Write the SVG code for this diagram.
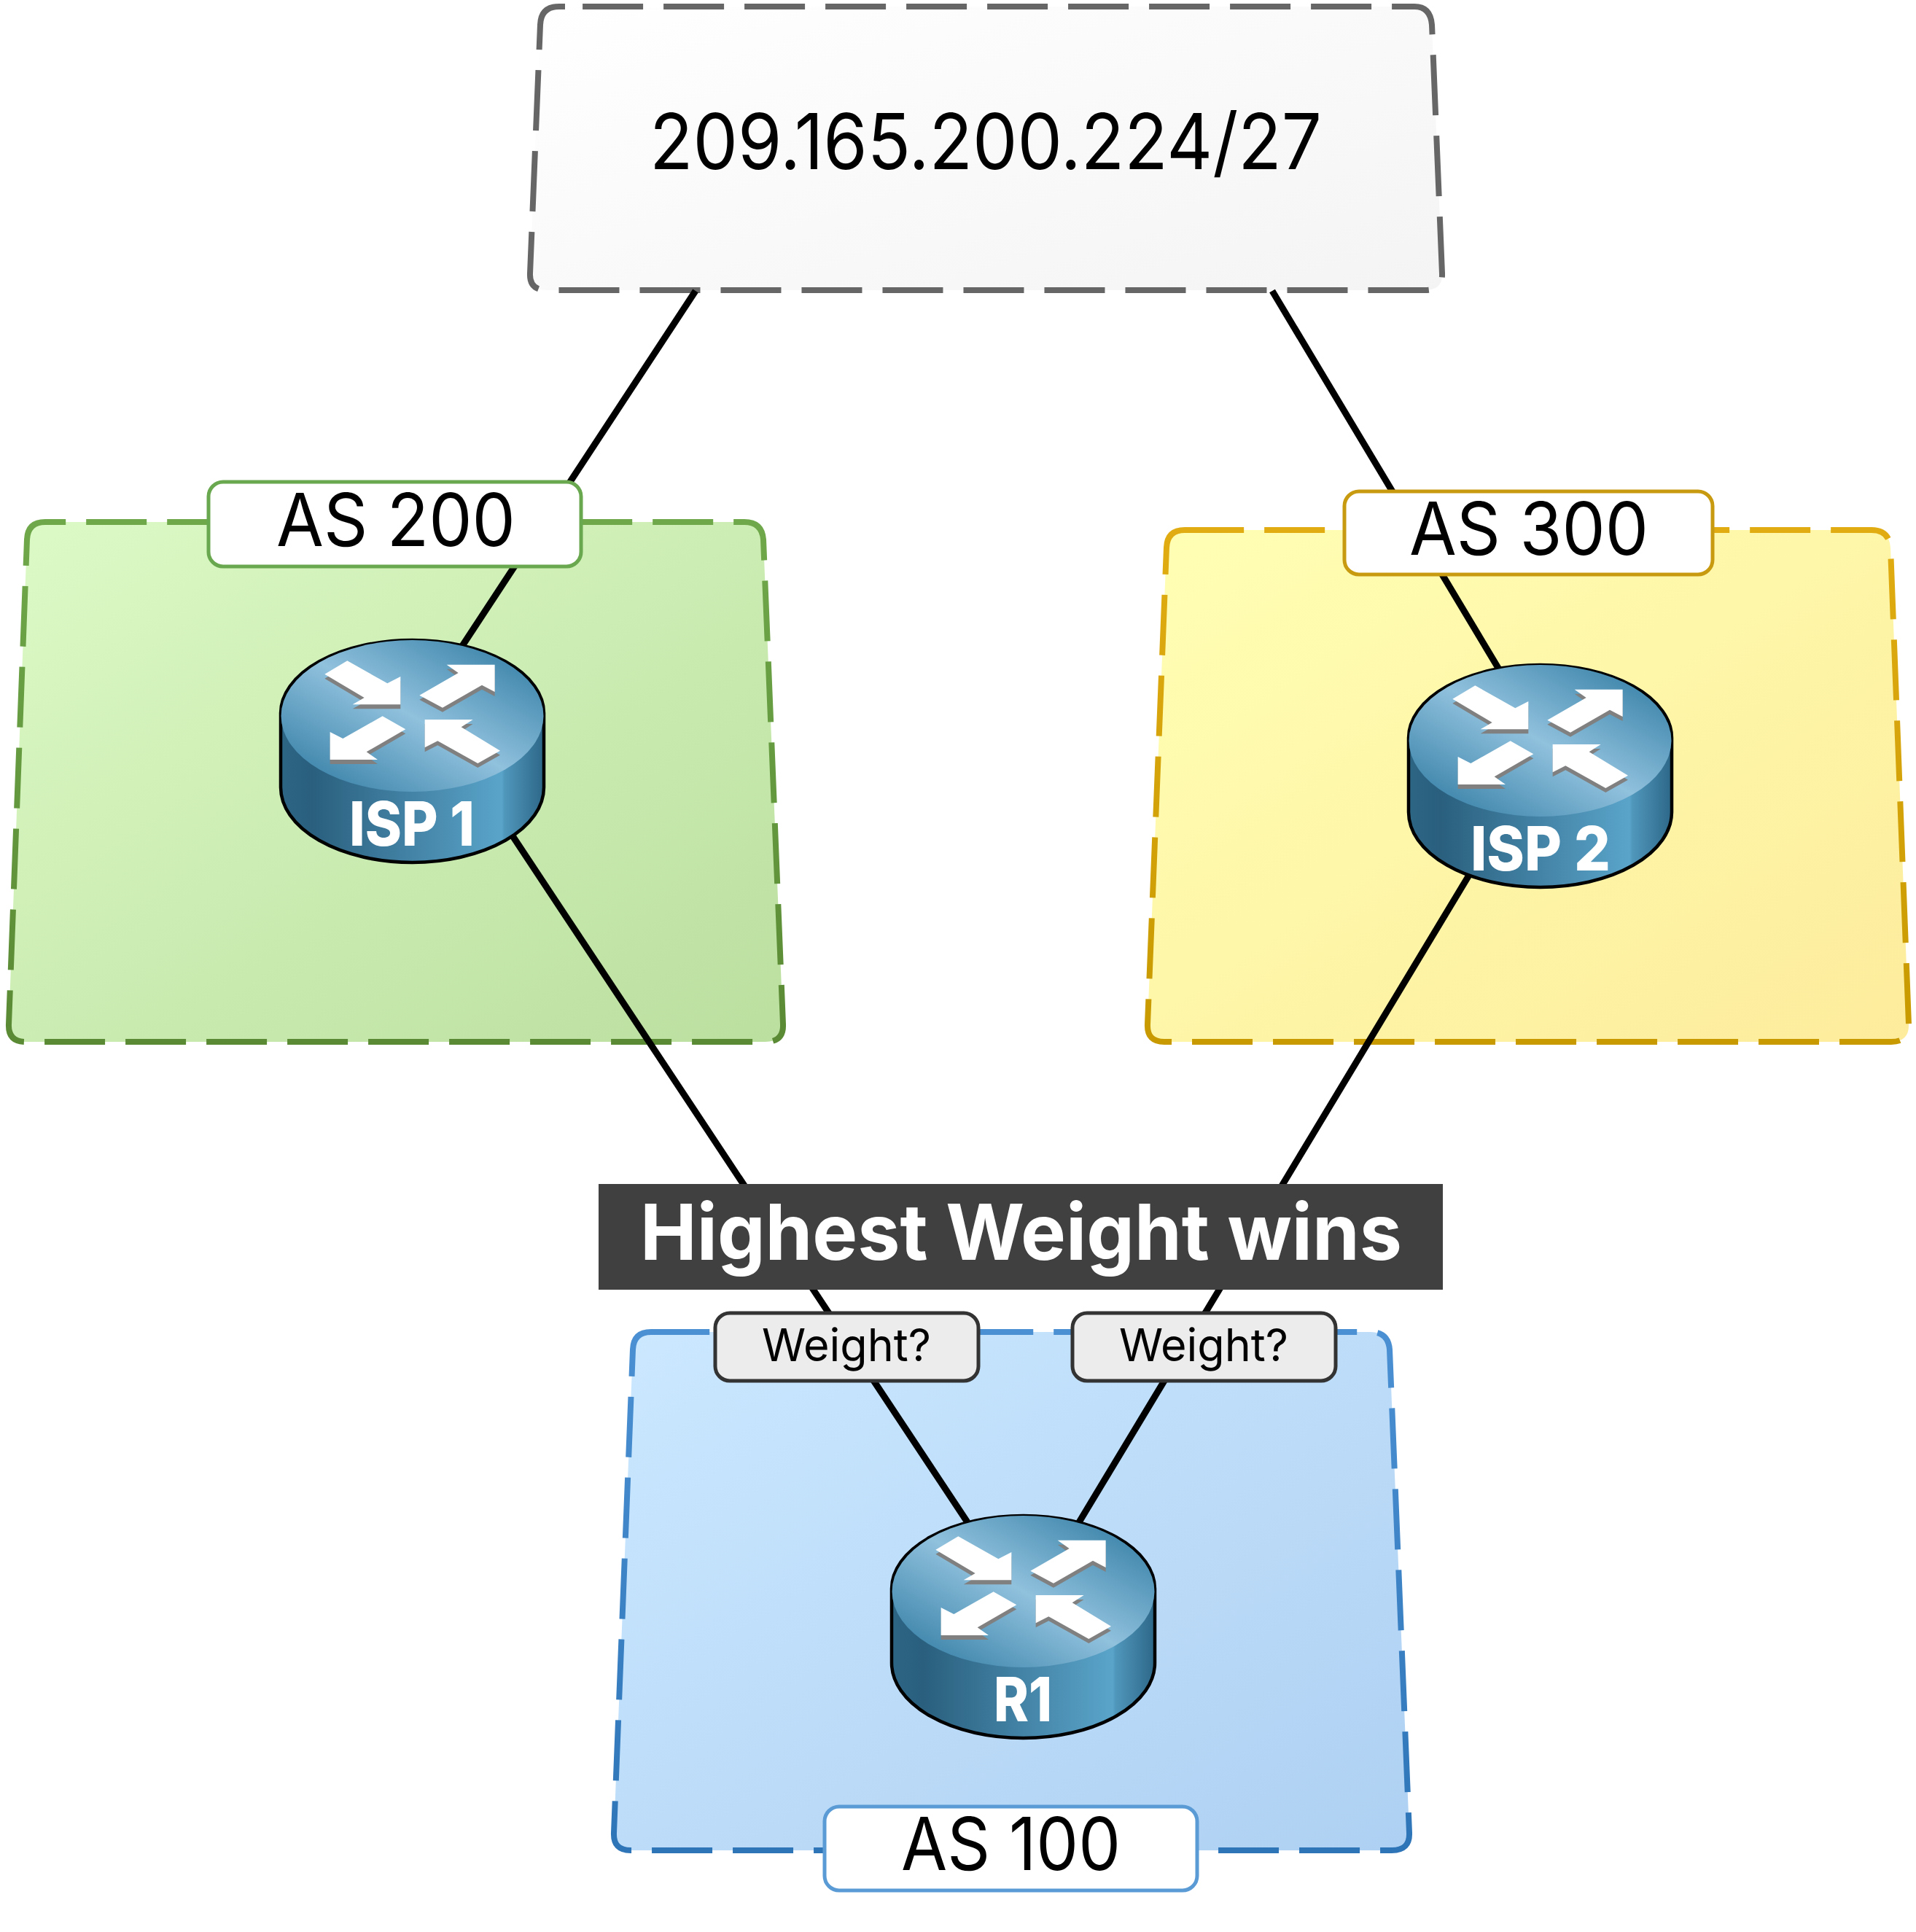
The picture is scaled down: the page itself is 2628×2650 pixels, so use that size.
<svg xmlns="http://www.w3.org/2000/svg" xmlns:xlink="http://www.w3.org/1999/xlink" width="2628" height="2650" viewBox="0 0 2628 2650">
<style>
text{font-family:"Inter","Liberation Sans",sans-serif;fill:#000}
.zone{stroke-width:8;stroke-dasharray:83 28}
.lbl{fill:#fff;stroke-width:5}
.as{font-size:100px}
.wt{fill:#ececec;stroke:#333;stroke-width:5}
.wtt{font-size:62px}
.link{stroke:#000;stroke-width:9;fill:none}
.rn{font-size:84px;font-weight:800;fill:#fff;text-anchor:middle}
</style>
<defs>
<linearGradient id="gTop" x1="0" y1="0" x2="1" y2="1"><stop offset="0" stop-color="#fff"/><stop offset="1" stop-color="#f4f4f4"/></linearGradient>
<linearGradient id="gGreen" x1="0" y1="0" x2="1" y2="1"><stop offset="0" stop-color="#dcfac6"/><stop offset="1" stop-color="#bbdf9f"/></linearGradient>
<linearGradient id="gYellow" x1="0" y1="0" x2="1" y2="1"><stop offset="0" stop-color="#ffffb4"/><stop offset="1" stop-color="#fdec9c"/></linearGradient>
<linearGradient id="gBlue" x1="0" y1="0" x2="1" y2="1"><stop offset="0" stop-color="#cbe8ff"/><stop offset="1" stop-color="#aed0f2"/></linearGradient>
<linearGradient id="sGreen" x1="0" y1="0" x2="0" y2="1"><stop offset="0" stop-color="#6fa84a"/><stop offset="1" stop-color="#5a8a34"/></linearGradient>
<linearGradient id="sYellow" x1="0" y1="0" x2="0" y2="1"><stop offset="0" stop-color="#e0ac12"/><stop offset="1" stop-color="#c89a00"/></linearGradient>
<linearGradient id="sBlue" x1="0" y1="0" x2="0" y2="1"><stop offset="0" stop-color="#4a90d2"/><stop offset="1" stop-color="#2e75b8"/></linearGradient>
<linearGradient id="rSide" x1="0" y1="0" x2="1" y2="0"><stop offset="0" stop-color="#2d6585"/><stop offset=".12" stop-color="#2a5f7e"/><stop offset=".84" stop-color="#5aa4ca"/><stop offset=".85" stop-color="#5097bc"/><stop offset="1" stop-color="#2d6788"/></linearGradient>
<linearGradient id="rTop" x1="1" y1="0" x2="0" y2="1"><stop offset=".1" stop-color="#3c84aa"/><stop offset=".5" stop-color="#90c1dd"/><stop offset=".9" stop-color="#3c84aa"/></linearGradient>
<g id="arrows">
<polygon points="315,225 408,170 573,263 627,235 627,350 430,350 478,322"/>
<polygon points="705,312 865,220 817,186 1015,186 1015,298 962,270 800,363"/>
<polygon points="648,452 553,398 390,490 337,463 337,577 533,577 487,545"/>
<polygon points="727,412 925,412 877,443 1037,540 945,592 780,500 727,527"/>
</g>
<g id="router">
<path d="M2,101A180.5,100 0 0 1 363,101L363,203A180.5,103 0 0 1 2,203Z" fill="url(#rSide)" stroke="#000" stroke-width="4.5"/>
<ellipse cx="182.5" cy="105" rx="180" ry="104" fill="url(#rTop)"/>
<g transform="scale(.3333) translate(-128,-82)">
<use href="#arrows" y="18" fill="#808080"/>
<use href="#arrows" fill="#fff"/>
</g>
</g>
</defs>
<g id="zone-top"><path class="zone" fill="url(#gTop)" stroke="#666" d="M775,9L767,9Q742,9 741,34L727,375Q726,398 750,398L1955,398Q1979,398 1978,375L1964,34Q1962,9 1940,9Z"/></g>
<g id="zone-as200"><path class="zone" fill="url(#gGreen)" stroke="url(#sGreen)" d="M70,716L62,716Q38,716 37,740L12,1405Q11,1429 35,1429L1050,1429Q1075,1429 1074,1405L1047,740Q1045,716 1021,716Z"/></g>
<g id="zone-as300"><path class="zone" fill="url(#gYellow)" stroke="url(#sYellow)" d="M1632,727L1625,727Q1601,727 1600,751L1574,1405Q1573,1429 1597,1429L2594,1429Q2619,1429 2618,1405L2593,751Q2591,727 2567,727Z"/></g>
<g id="zone-as100"><path class="zone" fill="url(#gBlue)" stroke="url(#sBlue)" d="M900,1827L893,1827Q869,1827 868,1851L842,2514Q841,2538 865,2538L1909,2538Q1934,2538 1933,2514L1906,1851Q1904,1827 1880,1827Z"/></g>
<g id="connectors">
<line class="link" x1="954" y1="399" x2="634" y2="886"/>
<line class="link" x1="702" y1="1145" x2="1327" y2="2088"/>
<line class="link" x1="1745" y1="399" x2="2056" y2="918"/>
<line class="link" x1="2017" y1="1197" x2="1480" y2="2088"/>
</g>
<g id="label-prefix"><text x="891" y="232" font-size="106" textLength="922" lengthAdjust="spacingAndGlyphs">209.165.200.224/27</text></g>
<g id="label-as200"><rect class="lbl" x="286" y="661" width="511" height="116" rx="20" stroke="#6aa84f"/><text class="as" x="379" y="749" textLength="328" lengthAdjust="spacingAndGlyphs">AS 200</text></g>
<g id="label-as300"><rect class="lbl" x="1844" y="674" width="505" height="114" rx="20" stroke="#c89a10"/><text class="as" x="1933" y="761" textLength="328" lengthAdjust="spacingAndGlyphs">AS 300</text></g>
<g id="label-as100"><rect class="lbl" x="1131" y="2478" width="511" height="115" rx="20" stroke="#5b9bd5"/><text class="as" x="1236" y="2565" textLength="301" lengthAdjust="spacingAndGlyphs">AS 100</text></g>
<g id="isp1"><use href="#router" x="383" y="877"/><text class="rn" x="565" y="1160" textLength="172" lengthAdjust="spacingAndGlyphs">ISP 1</text></g>
<g id="isp2"><use href="#router" x="1930" y="911"/><text class="rn" x="2113" y="1194" textLength="192" lengthAdjust="spacingAndGlyphs">ISP 2</text></g>
<g id="r1"><use href="#router" x="1221" y="2078"/><text class="rn" x="1403" y="2361" textLength="80" lengthAdjust="spacingAndGlyphs">R1</text></g>
<g id="banner"><rect x="821" y="1624" width="1158" height="145" fill="#404040"/><text x="878" y="1728" font-size="106" font-weight="700" style="fill:#fff" textLength="1045" lengthAdjust="spacingAndGlyphs">Highest Weight wins</text></g>
<g id="weight-left"><rect class="wt" x="981" y="1801" width="361" height="93" rx="20"/><text class="wtt" x="1045" y="1867" textLength="232" lengthAdjust="spacingAndGlyphs">Weight?</text></g>
<g id="weight-right"><rect class="wt" x="1471" y="1801" width="361" height="93" rx="20"/><text class="wtt" x="1535" y="1867" textLength="232" lengthAdjust="spacingAndGlyphs">Weight?</text></g>
</svg>
